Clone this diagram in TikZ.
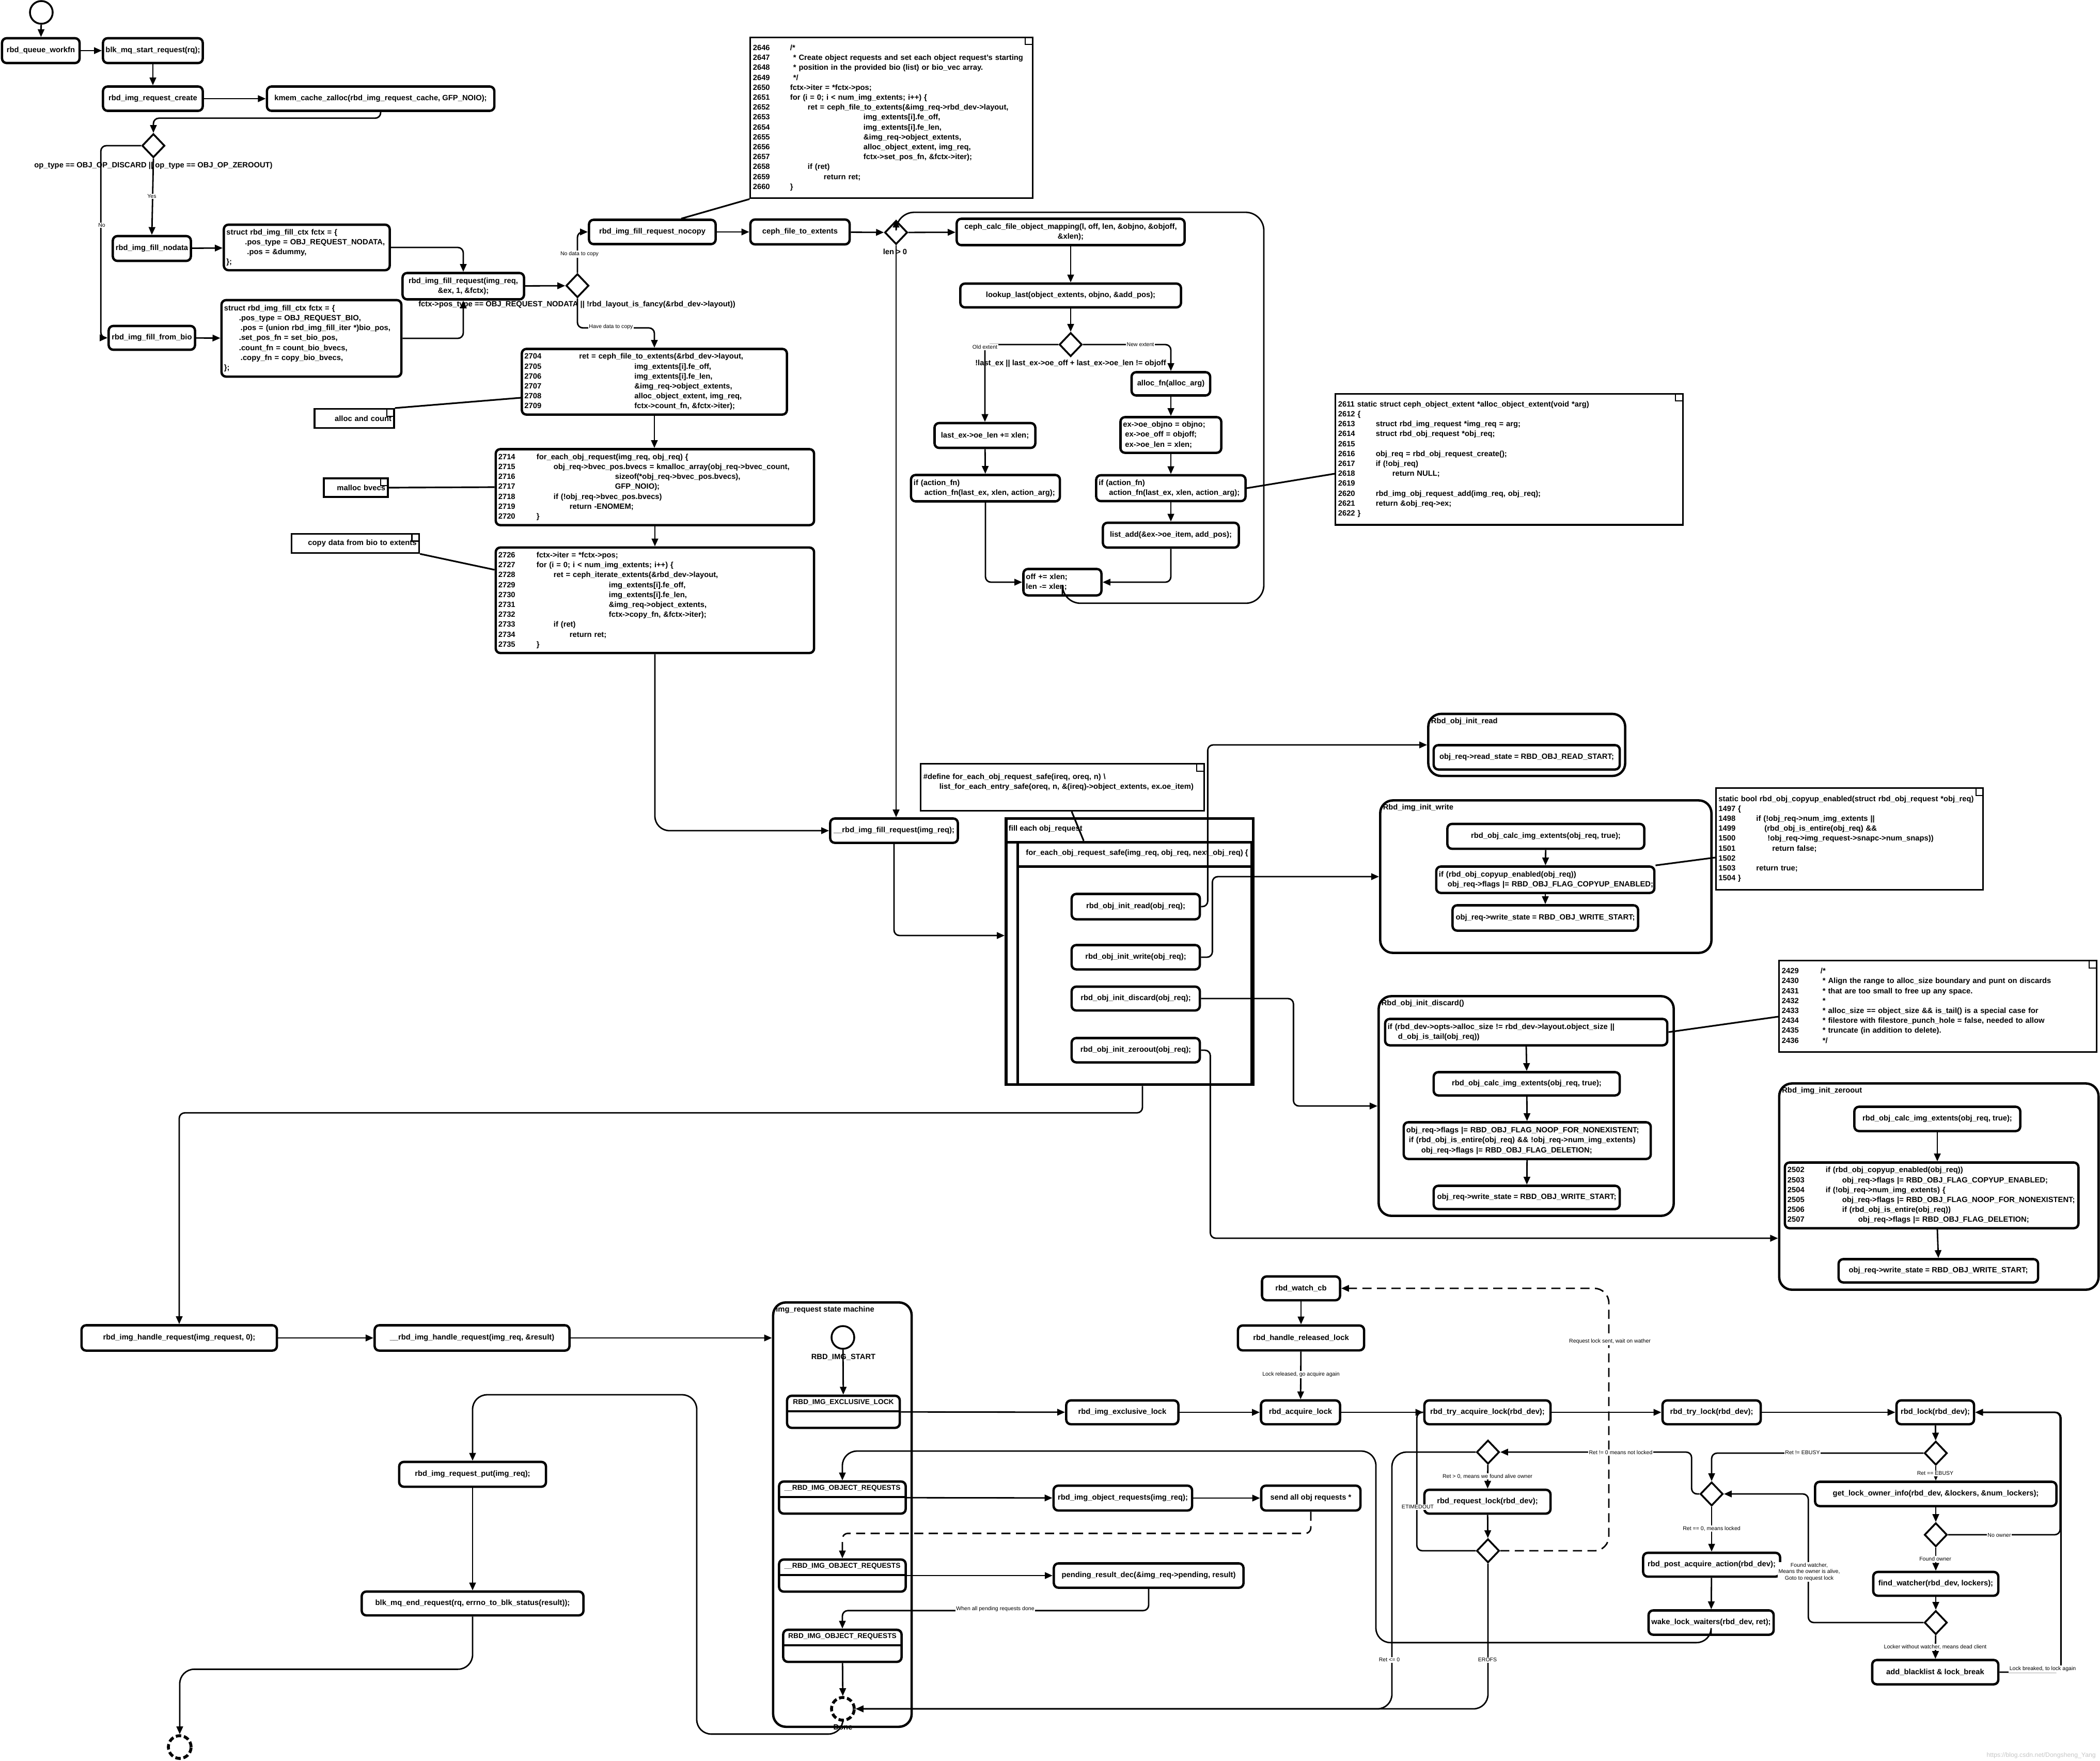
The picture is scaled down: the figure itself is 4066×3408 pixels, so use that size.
\documentclass[tikz,border=0pt]{standalone}
\usepackage{fontspec}
\setmainfont{Liberation Sans}
\usetikzlibrary{arrows.meta, shapes.geometric, positioning, calc}
\newcommand\bx{\fontsize{4.2pt}{5.46pt}\selectfont\bfseries}
\newcommand\st{\fontsize{3.9pt}{5pt}\selectfont\bfseries}
\newcommand\sm{\fontsize{3pt}{3.6pt}\selectfont}
\tikzset{
  box/.style={draw, line width=1.3pt, rounded corners=2.5pt, font=\bx, align=center, inner sep=1pt},
  codebox/.style={box, align=left, inner xsep=0.05cm, text width=#1},
  note/.style={draw, line width=0.9pt, font=\bx, align=left, inner xsep=0.05cm, text width=#1,
    path picture={\draw[line width=0.6pt] ([xshift=-4pt]path picture bounding box.north east) -- ++(0,-4pt) -- ([yshift=-4pt]path picture bounding box.north east);}},
  lane/.style={draw, line width=1.3pt, rounded corners=7pt, inner sep=0pt},
  lanetitle/.style={anchor=west, font=\bx, inner sep=2pt, yshift=-0.17cm},
  hframe/.style={draw, line width=1.5pt, inner sep=0pt,
    path picture={\draw[line width=1.2pt] ([yshift=-#1]path picture bounding box.north west) -- ([yshift=-#1]path picture bounding box.north east);}},
  imgstate/.style={draw, line width=1.3pt, rounded corners=2.5pt, minimum width=#1, minimum height=0.62cm, inner sep=0pt,
    path picture={\draw[line width=1pt] ([yshift=-0.30cm]path picture bounding box.north west) -- ([yshift=-0.30cm]path picture bounding box.north east);}},
  stitle/.style={font=\st, anchor=center, inner sep=0pt, yshift=-0.15cm},
  decision/.style={diamond, draw, line width=1pt, minimum width=0.44cm, minimum height=0.46cm, inner sep=0pt},
  initnode/.style={circle, draw, line width=1pt, minimum size=0.44cm, inner sep=0pt},
  finalnode/.style={initnode, line width=1.6pt, dash pattern=on 3pt off 1.5pt},
  flow/.style={-{Triangle[length=4.3pt,width=3.6pt]}, line width=0.8pt, rounded corners=3pt},
  noteline/.style={line width=0.9pt},
  lbl/.style={font=\sm, fill=white, inner sep=0.5pt},
  blbl/.style={font=\bx, inner sep=0.5pt},
}
\begin{document}
\catcode`\_=12
\begin{tikzpicture}[x=0.01cm, y=-0.01cm]
\useasboundingbox (0,0) rectangle (4066,3408);

% request entry
\node[initnode] (start0) at (80,24) {};
\node[box, minimum width=1.50cm, minimum height=0.48cm] (workfn) at (79,98) {rbd_queue_workfn};
\node[box, minimum width=1.93cm, minimum height=0.48cm] (startreq) at (296,98) {blk_mq_start_request(rq);};
\node[box, minimum width=1.93cm, minimum height=0.47cm] (reqcreate) at (296,191) {rbd_img_request_create};
\node[box, minimum width=4.40cm, minimum height=0.47cm] (kmem) at (737,191) {kmem_cache_zalloc(rbd_img_request_cache, GFP_NOIO);};
\node[decision] (dOp) at (297,282) {};
\node[box, minimum width=1.51cm, minimum height=0.48cm] (fillnodata) at (294,481) {rbd_img_fill_nodata};
\node[codebox=3.11cm, minimum height=0.88cm] (ctxnodata) at (594,479) {\begin{tabular}{@{}l@{}}
struct rbd_img_fill_ctx fctx = \{\\
\hspace*{0.36cm}.pos_type = OBJ_REQUEST_NODATA,\\
\hspace*{0.40cm}.pos = \&dummy,\\
\};
\end{tabular}};
\node[box, minimum width=1.67cm, minimum height=0.46cm] (fillbio) at (294,654) {rbd_img_fill_from_bio};
\node[codebox=3.38cm, minimum height=1.48cm] (ctxbio) at (603,655) {\begin{tabular}{@{}l@{}}
struct rbd_img_fill_ctx fctx = \{\\
\hspace*{0.29cm}.pos_type = OBJ_REQUEST_BIO,\\
\hspace*{0.32cm}.pos = (union rbd_img_fill_iter *)bio_pos,\\
\hspace*{0.29cm}.set_pos_fn = set_bio_pos,\\
\hspace*{0.29cm}.count_fn = count_bio_bvecs,\\
\hspace*{0.32cm}.copy_fn = copy_bio_bvecs,\\
\};
\end{tabular}};
\node[box, minimum width=2.35cm, minimum height=0.51cm] (fillreq) at (897,554) {rbd_img_fill_request(img_req,\\\&ex, 1, \&fctx);};
\node[decision] (dFancy) at (1118,553) {};
\node[box, minimum width=2.45cm, minimum height=0.47cm] (nocopy) at (1263,449) {rbd_img_fill_request_nocopy};
\node[box, minimum width=1.92cm, minimum height=0.48cm] (cfte) at (1549,449) {ceph_file_to_extents};
\node[decision] (dLen) at (1735,450) {};

\node[note=5.36cm, minimum height=3.01cm] (n2646) at (1726,228) {\begin{tabular}{@{}p{0.72cm}@{}l@{}}
2646 & /*\\
2647 & \hspace*{0.06cm}* Create object requests and set each object request's starting\\
2648 & \hspace*{0.06cm}* position in the provided bio (list) or bio_vec array.\\
2649 & \hspace*{0.06cm}*/\\
2650 & fctx->iter = *fctx->pos;\\
2651 & for (i = 0; i < num_img_extents; i++) \{\\
2652 & \hspace*{0.34cm}ret = ceph_file_to_extents(\&img_req->rbd_dev->layout,\\
2653 & \hspace*{1.42cm}img_extents[i].fe_off,\\
2654 & \hspace*{1.42cm}img_extents[i].fe_len,\\
2655 & \hspace*{1.42cm}\&img_req->object_extents,\\
2656 & \hspace*{1.42cm}alloc_object_extent, img_req,\\
2657 & \hspace*{1.42cm}fctx->set_pos_fn, \&fctx->iter);\\
2658 & \hspace*{0.34cm}if (ret)\\
2659 & \hspace*{0.65cm}return ret;\\
2660 & \}
\end{tabular}};

% ceph_file_to_extents loop
\node[box, minimum width=4.41cm, minimum height=0.51cm] (calcmap) at (2073,449) {ceph_calc_file_object_mapping(l, off, len, \&objno, \&objoff,\\\&xlen);};
\node[box, minimum width=4.27cm, minimum height=0.46cm] (lookup) at (2073,572) {lookup_last(object_extents, objno, \&add_pos);};
\node[decision] (dExt) at (2073,667) {};
\node[box, minimum width=1.52cm, minimum height=0.45cm] (allocfn) at (2267,743) {alloc_fn(alloc_arg)};
\node[codebox=1.85cm, minimum height=0.69cm] (exset) at (2267,842) {\begin{tabular}{@{}l@{}}
ex->oe_objno = objno;\\
\hspace*{0.04cm}ex->oe_off = objoff;\\
\hspace*{0.04cm}ex->oe_len = xlen;
\end{tabular}};
\node[codebox=2.79cm, minimum height=0.50cm] (actR) at (2267,945) {\begin{tabular}{@{}l@{}}
if (action_fn)\\
\hspace*{0.2cm}action_fn(last_ex, xlen, action_arg);
\end{tabular}};
\node[box, minimum width=2.63cm, minimum height=0.48cm] (listadd) at (2267,1036) {list_add(\&ex->oe_item, add_pos);};
\node[box, minimum width=1.95cm, minimum height=0.48cm] (lastex) at (1907,843) {last_ex->oe_len += xlen;};
\node[codebox=2.78cm, minimum height=0.51cm] (actL) at (1908,945) {\begin{tabular}{@{}l@{}}
if (action_fn)\\
\hspace*{0.21cm}action_fn(last_ex, xlen, action_arg);
\end{tabular}};
\node[codebox=1.41cm, minimum height=0.51cm] (offlen) at (2057,1127) {\begin{tabular}{@{}l@{}}
off += xlen;\\
len -= xlen;
\end{tabular}};

\node[note=6.62cm, minimum height=2.46cm] (n2611) at (2922,889) {\begin{tabular}{@{}p{0.73cm}@{}l@{}}
\multicolumn{2}{@{}l@{}}{2611 static struct ceph_object_extent *alloc_object_extent(void *arg)}\\
\multicolumn{2}{@{}l@{}}{2612 \{}\\
2613 & struct rbd_img_request *img_req = arg;\\
2614 & struct rbd_obj_request *obj_req;\\
2615 & \\
2616 & obj_req = rbd_obj_request_create();\\
2617 & if (!obj_req)\\
2618 & \hspace*{0.32cm}return NULL;\\
2619 & \\
2620 & rbd_img_obj_request_add(img_req, obj_req);\\
2621 & return \&obj_req->ex;\\
\multicolumn{2}{@{}l@{}}{2622 \}}
\end{tabular}};

% fill from bio: count, alloc, copy
\node[codebox=5.03cm, minimum height=1.27cm] (c2704) at (1267,739) {\begin{tabular}{@{}p{0.50cm}@{}l@{}}
2704 & \hspace*{0.56cm}ret = ceph_file_to_extents(\&rbd_dev->layout,\\
2705 & \hspace*{1.63cm}img_extents[i].fe_off,\\
2706 & \hspace*{1.63cm}img_extents[i].fe_len,\\
2707 & \hspace*{1.63cm}\&img_req->object_extents,\\
2708 & \hspace*{1.63cm}alloc_object_extent, img_req,\\
2709 & \hspace*{1.63cm}fctx->count_fn, \&fctx->iter);
\end{tabular}};
\node[codebox=6.06cm, minimum height=1.47cm] (c2714) at (1268,943) {\begin{tabular}{@{}p{0.74cm}@{}l@{}}
2714 & for_each_obj_request(img_req, obj_req) \{\\
2715 & \hspace*{0.33cm}obj_req->bvec_pos.bvecs = kmalloc_array(obj_req->bvec_count,\\
2716 & \hspace*{1.52cm}sizeof(*obj_req->bvec_pos.bvecs),\\
2717 & \hspace*{1.52cm}GFP_NOIO);\\
2718 & \hspace*{0.33cm}if (!obj_req->bvec_pos.bvecs)\\
2719 & \hspace*{0.64cm}return -ENOMEM;\\
2720 & \}
\end{tabular}};
\node[codebox=6.06cm, minimum height=2.04cm] (c2726) at (1268,1162) {\begin{tabular}{@{}p{0.74cm}@{}l@{}}
2726 & fctx->iter = *fctx->pos;\\
2727 & for (i = 0; i < num_img_extents; i++) \{\\
2728 & \hspace*{0.33cm}ret = ceph_iterate_extents(\&rbd_dev->layout,\\
2729 & \hspace*{1.40cm}img_extents[i].fe_off,\\
2730 & \hspace*{1.40cm}img_extents[i].fe_len,\\
2731 & \hspace*{1.40cm}\&img_req->object_extents,\\
2732 & \hspace*{1.40cm}fctx->copy_fn, \&fctx->iter);\\
2733 & \hspace*{0.33cm}if (ret)\\
2734 & \hspace*{0.64cm}return ret;\\
2735 & \}
\end{tabular}};
\node[note=1.44cm, minimum height=0.37cm, align=right] (nAlloc) at (686,810) {alloc and count};
\node[note=1.14cm, minimum height=0.36cm, align=right] (nMalloc) at (689,944) {malloc bvecs};
\node[note=2.37cm, minimum height=0.36cm, align=right] (nCopy) at (688,1052) {copy data from bio to extents};

% fill each obj_request
\node[box, minimum width=2.47cm, minimum height=0.47cm] (fillimg) at (1731,1608) {__rbd_img_fill_request(img_req);};
\node[note=5.38cm, minimum height=0.91cm] (nDefine) at (2057,1524) {\begin{tabular}{@{}l@{}}
\#define for_each_obj_request_safe(ireq, oreq, n) \textbackslash\\
\hspace*{0.31cm}list_for_each_entry_safe(oreq, n, \&(ireq)->object_extents, ex.oe_item)\\
\mbox{}
\end{tabular}};
\node[hframe=0.46cm, minimum width=4.78cm, minimum height=5.15cm,
  label={[lanetitle, yshift=-0.06cm]north west:fill each obj_request}] (fillEach) at (2187,1842) {};
\node[hframe=0.47cm, minimum width=4.53cm, minimum height=4.69cm,
  label={[lanetitle, xshift=0.11cm, yshift=-0.065cm]north west:{for_each_obj_request_safe(img_req, obj_req, next_obj_req) \{}}] (forEach) at (2197,1865) {};
\node[box, minimum width=2.48cm, minimum height=0.49cm] (initRead) at (2199,1755) {rbd_obj_init_read(obj_req);};
\node[box, minimum width=2.48cm, minimum height=0.47cm] (initWrite) at (2199,1853) {rbd_obj_init_write(obj_req);};
\node[box, minimum width=2.48cm, minimum height=0.46cm] (initDiscard) at (2199,1933) {rbd_obj_init_discard(obj_req);};
\node[box, minimum width=2.48cm, minimum height=0.47cm] (initZero) at (2199,2033) {rbd_obj_init_zeroout(obj_req);};

% obj request init
\node[lane, minimum width=3.81cm, minimum height=1.20cm, label={[lanetitle]north west:Rbd_obj_init_read}] (cRead) at (2956,1442) {};
\node[box, minimum width=3.60cm, minimum height=0.47cm] (readState) at (2956,1466) {obj_req->read_state = RBD_OBJ_READ_START;};
\node[lane, minimum width=6.41cm, minimum height=2.95cm, label={[lanetitle]north west:Rbd_img_init_write}] (cWrite) at (2993,1697) {};
\node[box, minimum width=3.81cm, minimum height=0.48cm] (wCalc) at (2993,1619) {rbd_obj_calc_img_extents(obj_req, true);};
\node[codebox=4.12cm, minimum height=0.51cm] (wCopyup) at (2992,1703) {\begin{tabular}{@{}l@{}}
if (rbd_obj_copyup_enabled(obj_req))\\
\hspace*{0.17cm}obj_req->flags |= RBD_OBJ_FLAG_COPYUP_ENABLED;
\end{tabular}};
\node[box, minimum width=3.59cm, minimum height=0.49cm] (wState) at (2992,1777) {obj_req->write_state = RBD_OBJ_WRITE_START;};
\node[note=5.07cm, minimum height=1.88cm] (nCopyup) at (3581,1624) {\begin{tabular}{@{}p{0.73cm}@{}l@{}}
\multicolumn{2}{@{}l@{}}{static bool rbd_obj_copyup_enabled(struct rbd_obj_request *obj_req)}\\
\multicolumn{2}{@{}l@{}}{1497 \{}\\
1498 & if (!obj_req->num_img_extents ||\\
1499 & \hspace*{0.16cm}(rbd_obj_is_entire(obj_req) \&\&\\
1500 & \hspace*{0.22cm}!obj_req->img_request->snapc->num_snaps))\\
1501 & \hspace*{0.31cm}return false;\\
1502 & \\
1503 & return true;\\
\multicolumn{2}{@{}l@{}}{1504 \}}
\end{tabular}};
\node[lane, minimum width=5.71cm, minimum height=4.25cm, label={[lanetitle]north west:Rbd_obj_init_discard()}] (cDiscard) at (2955,2141) {};
\node[codebox=5.36cm, minimum height=0.51cm] (dIf) at (2955,1998) {\begin{tabular}{@{}l@{}}
if (rbd_dev->opts->alloc_size != rbd_dev->layout.object_size ||\\
\hspace*{0.2cm}d_obj_is_tail(obj_req))
\end{tabular}};
\node[box, minimum width=3.60cm, minimum height=0.45cm] (dCalc) at (2956,2098) {rbd_obj_calc_img_extents(obj_req, true);};
\node[codebox=4.68cm, minimum height=0.71cm] (dFlags) at (2957,2208) {\begin{tabular}{@{}l@{}}
obj_req->flags |= RBD_OBJ_FLAG_NOOP_FOR_NONEXISTENT;\\
\hspace*{0.05cm}if (rbd_obj_is_entire(obj_req) \&\& !obj_req->num_img_extents)\\
\hspace*{0.29cm}obj_req->flags |= RBD_OBJ_FLAG_DELETION;
\end{tabular}};
\node[box, minimum width=3.60cm, minimum height=0.45cm] (dState) at (2956,2318) {obj_req->write_state = RBD_OBJ_WRITE_START;};
\node[note=6.04cm, minimum height=1.63cm] (n2429) at (3752,1948) {\begin{tabular}{@{}p{0.75cm}@{}l@{}}
2429 & /*\\
2430 & \hspace*{0.04cm}* Align the range to alloc_size boundary and punt on discards\\
2431 & \hspace*{0.04cm}* that are too small to free up any space.\\
2432 & \hspace*{0.04cm}*\\
2433 & \hspace*{0.04cm}* alloc_size == object_size \&\& is_tail() is a special case for\\
2434 & \hspace*{0.04cm}* filestore with filestore_punch_hole = false, needed to allow\\
2435 & \hspace*{0.04cm}* truncate (in addition to delete).\\
2436 & \hspace*{0.04cm}*/
\end{tabular}};
\node[lane, minimum width=6.18cm, minimum height=3.99cm, label={[lanetitle]north west:Rbd_img_init_zeroout}] (cZero) at (3754,2297) {};
\node[box, minimum width=3.21cm, minimum height=0.47cm] (zCalc) at (3751,2166) {rbd_obj_calc_img_extents(obj_req, true);};
\node[codebox=5.58cm, minimum height=1.27cm] (z2502) at (3740,2314) {\begin{tabular}{@{}p{0.74cm}@{}l@{}}
2502 & if (rbd_obj_copyup_enabled(obj_req))\\
2503 & \hspace*{0.32cm}obj_req->flags |= RBD_OBJ_FLAG_COPYUP_ENABLED;\\
2504 & if (!obj_req->num_img_extents) \{\\
2505 & \hspace*{0.32cm}obj_req->flags |= RBD_OBJ_FLAG_NOOP_FOR_NONEXISTENT;\\
2506 & \hspace*{0.32cm}if (rbd_obj_is_entire(obj_req))\\
2507 & \hspace*{0.63cm}obj_req->flags |= RBD_OBJ_FLAG_DELETION;
\end{tabular}};
\node[box, minimum width=3.86cm, minimum height=0.45cm] (zState) at (3753,2460) {obj_req->write_state = RBD_OBJ_WRITE_START;};

% handle request and state machine
\node[box, minimum width=3.78cm, minimum height=0.49cm] (handleReq) at (347,2590) {rbd_img_handle_request(img_request, 0);};
\node[box, minimum width=3.77cm, minimum height=0.49cm] (handleReq2) at (914,2590) {__rbd_img_handle_request(img_req, \&result)};
\node[box, minimum width=2.84cm, minimum height=0.48cm] (reqPut) at (915,2854) {rbd_img_request_put(img_req);};
\node[box, minimum width=4.29cm, minimum height=0.46cm] (endReq) at (915,3104) {blk_mq_end_request(rq, errno_to_blk_status(result));};
\node[finalnode] (final0) at (348,3382) {};
\node[lane, minimum width=2.68cm, minimum height=8.21cm, label={[lanetitle]north west:img_request state machine}] (cSM) at (1631,2932) {};
\node[initnode] (smStart) at (1632,2589) {};
\node[imgstate=2.18cm, label={[stitle]north:RBD_IMG_EXCLUSIVE_LOCK}] (sExcl) at (1633,2733) {};
\node[imgstate=2.45cm, label={[stitle]north:__RBD_IMG_OBJECT_REQUESTS}] (sObj1) at (1631,2899) {};
\node[imgstate=2.45cm, label={[stitle]north:__RBD_IMG_OBJECT_REQUESTS}] (sObj2) at (1631,3050) {};
\node[imgstate=2.29cm, label={[stitle]north:RBD_IMG_OBJECT_REQUESTS}] (sObjR) at (1631,3186) {};
\node[finalnode] (smDone) at (1632,3308) {};

% exclusive lock
\node[box, minimum width=2.17cm, minimum height=0.46cm] (exclLock) at (2173,2734) {rbd_img_exclusive_lock};
\node[box, minimum width=1.53cm, minimum height=0.46cm] (acqLock) at (2518,2734) {rbd_acquire_lock};
\node[box, minimum width=1.51cm, minimum height=0.46cm] (watchCb) at (2519,2494) {rbd_watch_cb};
\node[box, minimum width=2.44cm, minimum height=0.48cm] (relLock) at (2519,2590) {rbd_handle_released_lock};
\node[box, minimum width=2.68cm, minimum height=0.48cm] (objReqs) at (2174,2900) {rbd_img_object_requests(img_req);};
\node[box, minimum width=1.92cm, minimum height=0.48cm] (sendAll) at (2538,2900) {send all obj requests *};
\node[box, minimum width=3.67cm, minimum height=0.47cm] (pendDec) at (2224,3050) {pending_result_dec(\&img_req->pending, result)};
\node[box, minimum width=2.44cm, minimum height=0.46cm] (tryAcq) at (2880,2734) {rbd_try_acquire_lock(rbd_dev);};
\node[box, minimum width=1.90cm, minimum height=0.46cm] (tryLock) at (3314,2734) {rbd_try_lock(rbd_dev);};
\node[box, minimum width=1.50cm, minimum height=0.46cm] (rbdLock) at (3747,2734) {rbd_lock(rbd_dev);};
\node[decision] (dA) at (3748,2813) {};
\node[box, minimum width=4.67cm, minimum height=0.47cm] (ownerInfo) at (3748,2892) {get_lock_owner_info(rbd_dev, \&lockers, \&num_lockers);};
\node[decision] (dB) at (3748,2971) {};
\node[box, minimum width=2.42cm, minimum height=0.46cm] (findW) at (3748,3066) {find_watcher(rbd_dev, lockers);};
\node[decision] (dC) at (3748,3141) {};
\node[box, minimum width=2.44cm, minimum height=0.47cm] (blacklist) at (3747,3237) {add_blacklist \& lock_break};
\node[decision] (dD) at (3314,2892) {};
\node[box, minimum width=2.65cm, minimum height=0.46cm] (postAcq) at (3314,3029) {rbd_post_acquire_action(rbd_dev);};
\node[box, minimum width=2.42cm, minimum height=0.47cm] (wake) at (3313,3141) {wake_lock_waiters(rbd_dev, ret);};
\node[decision] (dE) at (2881,2811) {};
\node[box, minimum width=2.44cm, minimum height=0.46cm] (reqLock) at (2880,2907) {rbd_request_lock(rbd_dev);};
\node[decision] (dF) at (2881,3002) {};

% connectors, top part
\draw[flow] (start0) -- (workfn);
\draw[flow] (workfn) -- (startreq);
\draw[flow] (startreq) -- (reqcreate);
\draw[flow] (reqcreate) -- (kmem);
\draw[flow] (kmem.south) -- ++(0,12) -| (dOp.north);
\draw[flow] (dOp.west) -- ++(-78,0) |- (fillbio.west);
\draw[flow] (dOp.south) -- (fillnodata.north);
\draw[flow] (fillnodata) -- (ctxnodata);
\draw[flow] (ctxnodata.east) -| (fillreq.north);
\draw[flow] (fillbio) -- (ctxbio);
\draw[flow] (ctxbio.east) -| (fillreq.south);
\draw[flow] (fillreq) -- (dFancy);
\draw[flow] (dFancy.north) |- (nocopy.west);
\draw[flow] (dFancy.south) -- ++(0,57) -| (c2704.north);
\draw[noteline] (n2646.south west) -- ($(nocopy.north)+(56,0)$);
\draw[flow] (nocopy) -- (cfte);
\draw[flow] (cfte) -- (dLen);
\draw[flow] (dLen) -- (calcmap);
\draw[flow] (calcmap) -- (lookup);
\draw[flow] (lookup) -- (dExt);
\draw[flow] (dExt.west) -| (lastex.north);
\draw[flow] (dExt.east) -| (allocfn.north);
\draw[flow] (allocfn) -- (exset);
\draw[flow] (exset) -- (actR);
\draw[flow] (actR) -- (listadd);
\draw[flow] (lastex) -- (actL);
\draw[flow] (actL.south) |- (offlen.west);
\draw[flow] (listadd.south) |- (offlen.east);
\draw[flow, rounded corners=10pt] (offlen.south) -- ++(0,13) -| (2447,411) -| (dLen.north);
\draw[noteline] (actR.east) -- ($(n2611.west)+(0,28)$);
\draw[flow] (dLen.south) -- (dLen.south |- fillimg.north);
\draw[flow] (c2704.south) -- (c2704.south |- c2714.north);
\draw[flow] (c2714.south) -- (c2714.south |- c2726.north);
\draw[noteline] (nAlloc.north east) -- ($(c2704.west)+(0,31)$);
\draw[noteline] (nMalloc.east) -- (c2714.west);
\draw[noteline] (nCopy.south east) -- ($(c2726.west)+(0,-59)$);
\draw[flow, rounded corners=8pt] (c2726.south) |- (fillimg.west);
\draw[flow] (fillimg.south) |- ($(fillEach.west)+(0,-31)$);
\draw[noteline] ($(nDefine.south)+(18,0)$) -- ($(fillEach.north west)+(153,46)$);
\draw[flow] (initRead.east) -- ++(13,0) |- (cRead.west);
\draw[flow] (initWrite.east) -- ++(22,0) |- (cWrite.west);
\draw[flow] (initDiscard.east) -- ++(179,0) |- (cDiscard.west);
\draw[flow] (initZero.east) -- ++(18,0) |- ($(cZero.west)+(0,100)$);
\draw[flow] ($(fillEach.south)+(25,0)$) -- ++(0,52) -| (handleReq.north);
\draw[flow] (wCalc) -- (wCopyup);
\draw[flow] (wCopyup) -- (wState);
\draw[noteline] (wCopyup.north east) -- ($(nCopyup.west)+(0,36)$);
\draw[flow] (dIf.south) -- (dCalc.north);
\draw[flow] (dCalc) -- (dFlags);
\draw[flow] (dFlags) -- (dState);
\draw[noteline] (dIf.east) -- ($(n2429.west)+(0,20)$);
\draw[flow] (zCalc.south) -- (zCalc.south |- z2502.north);
\draw[flow] (zCalc.south |- z2502.south) -- (zState.north);

% connectors, bottom part
\draw[flow] (handleReq) -- (handleReq2);
\draw[flow] (handleReq2.east) -- (handleReq2.east -| cSM.west);
\draw[flow] (smStart) -- (sExcl);
\draw[flow] (sExcl) -- (exclLock);
\draw[flow] (exclLock) -- (acqLock);
\draw[flow] (watchCb) -- (relLock);
\draw[flow] (relLock) -- (acqLock);
\draw[flow] (acqLock) -- (tryAcq);
\draw[flow] (tryAcq) -- (tryLock);
\draw[flow] (tryLock) -- (rbdLock);
\draw[flow] (sObj1) -- (objReqs);
\draw[flow] (objReqs) -- (sendAll);
\draw[flow, dash pattern=on 5pt off 3pt] (sendAll.south) -- ++(0,42) -| (sObj2.north);
\draw[flow] (sObj2) -- (pendDec);
\draw[flow] (pendDec.south) -- ++(0,42) -| (sObjR.north);
\draw[flow] (sObjR) -- (smDone);
\draw[flow] (rbdLock) -- (dA);
\draw[flow] (dA) -- (ownerInfo);
\draw[flow] (ownerInfo) -- (dB);
\draw[flow] (dB) -- (findW);
\draw[flow] (findW) -- (dC);
\draw[flow] (dC) -- (blacklist);
\draw[flow] (dB.east) -- ++(217,0) |- (rbdLock.east);
\draw[flow] (blacklist.east) -- ++(119,0) |- (rbdLock.east);
\draw[flow] (dA.west) -| (dD.north);
\draw[flow] (dC.west) -- ++(-223,0) |- (dD.east);
\draw[flow] (dD.west) -- ++(-15,0) |- (dE.east);
\draw[flow] (dD) -- (postAcq);
\draw[flow] (postAcq) -- (wake);
\draw[flow, rounded corners=8pt] (wake.south) -- ++(0,13) -| (2664,2809) -| (sObj1.north);
\draw[flow] (dE) -- (reqLock);
\draw[flow, rounded corners=8pt] (dE.west) -| (2695,3308) -- (smDone.east);
\draw[flow] (reqLock) -- (dF);
\draw[flow, -] (dF.west) -- ++(-114,0) |- (tryAcq.west);
\draw[flow, dash pattern=on 5pt off 3pt, rounded corners=8pt] (dF.east) -| (3115,2494) -- (watchCb.east);
\draw[flow, rounded corners=8pt] (dF.south) |- (smDone.east);
\draw[flow, rounded corners=8pt] (smDone.south) -- ++(0,24) -| (1349,2700) -| (reqPut.north);
\draw[flow] (reqPut) -- (endReq);
\draw[flow, rounded corners=8pt] (endReq.south) -- ++(0,102) -| (final0.north);

% labels
\node[blbl] (lOp) at (297,321) {op_type == OBJ_OP_DISCARD || op_type == OBJ_OP_ZEROOUT)};
\node[lbl] (lYes) at (294,380) {Yes};
\node[lbl] (lNo) at (197,436) {No};
\node[blbl] (lFancy) at (1117,590) {fctx->pos_type == OBJ_REQUEST_NODATA || !rbd_layout_is_fancy(\&rbd_dev->layout))};
\node[lbl] (lNoData) at (1122,492) {No data to copy};
\node[lbl] (lHave) at (1183,633) {Have data to copy};
\node[blbl] (lLen) at (1733,487) {len > 0};
\node[lbl] (lOld) at (1907,672) {Old extent};
\node[lbl] (lNew) at (2208,667) {New extent};
\node[blbl] (lLast) at (2073,704) {!last_ex || last_ex->oe_off + last_ex->oe_len != objoff};
\node[blbl] (lStart) at (1633,2627) {RBD_IMG_START};
\node[blbl] (lDone) at (1632,3343) {Done};
\node[lbl] (lRel) at (2519,2661) {Lock released, go acquire again};
\node[lbl] (lPend) at (1927,3115) {When all pending requests done};
\node[lbl] (lSent) at (3117,2597) {Request lock sent, wait on wather};
\node[lbl] (lNotLocked) at (3138,2812) {Ret != 0 means not locked};
\node[lbl] (lAlive) at (2880,2858) {Ret > 0, means we found alive owner};
\node[lbl] (lTimeout) at (2745,2917) {ETIMEDOUT};
\node[lbl] (lRetLe) at (2690,3213) {Ret <= 0};
\node[lbl] (lErofs) at (2880,3213) {EROFS};
\node[lbl] (lNotBusy) at (3490,2812) {Ret != EBUSY};
\node[lbl] (lBusy) at (3747,2852) {Ret == EBUSY};
\node[lbl] (lLocked) at (3314,2959) {Ret == 0, means locked};
\node[lbl] (lNoOwner) at (3871,2972) {No owner};
\node[lbl] (lFound) at (3747,3018) {Found owner};
\node[lbl, align=center] (lWatcher) at (3503,3043) {Found watcher,\\Means the owner is alive,\\Goto to request lock};
\node[lbl] (lDead) at (3747,3188) {Locker without watcher, means dead client};
\node[lbl] (lBreak) at (3955,3231) {Lock breaked, to lock again};
\node[font=\fontsize{3.5pt}{4pt}\selectfont, text=gray!45, anchor=south east, inner sep=1pt] (wm) at (4062,3408) {https://blog.csdn.net/Dongsheng_Yang};
\end{tikzpicture}
\end{document}
